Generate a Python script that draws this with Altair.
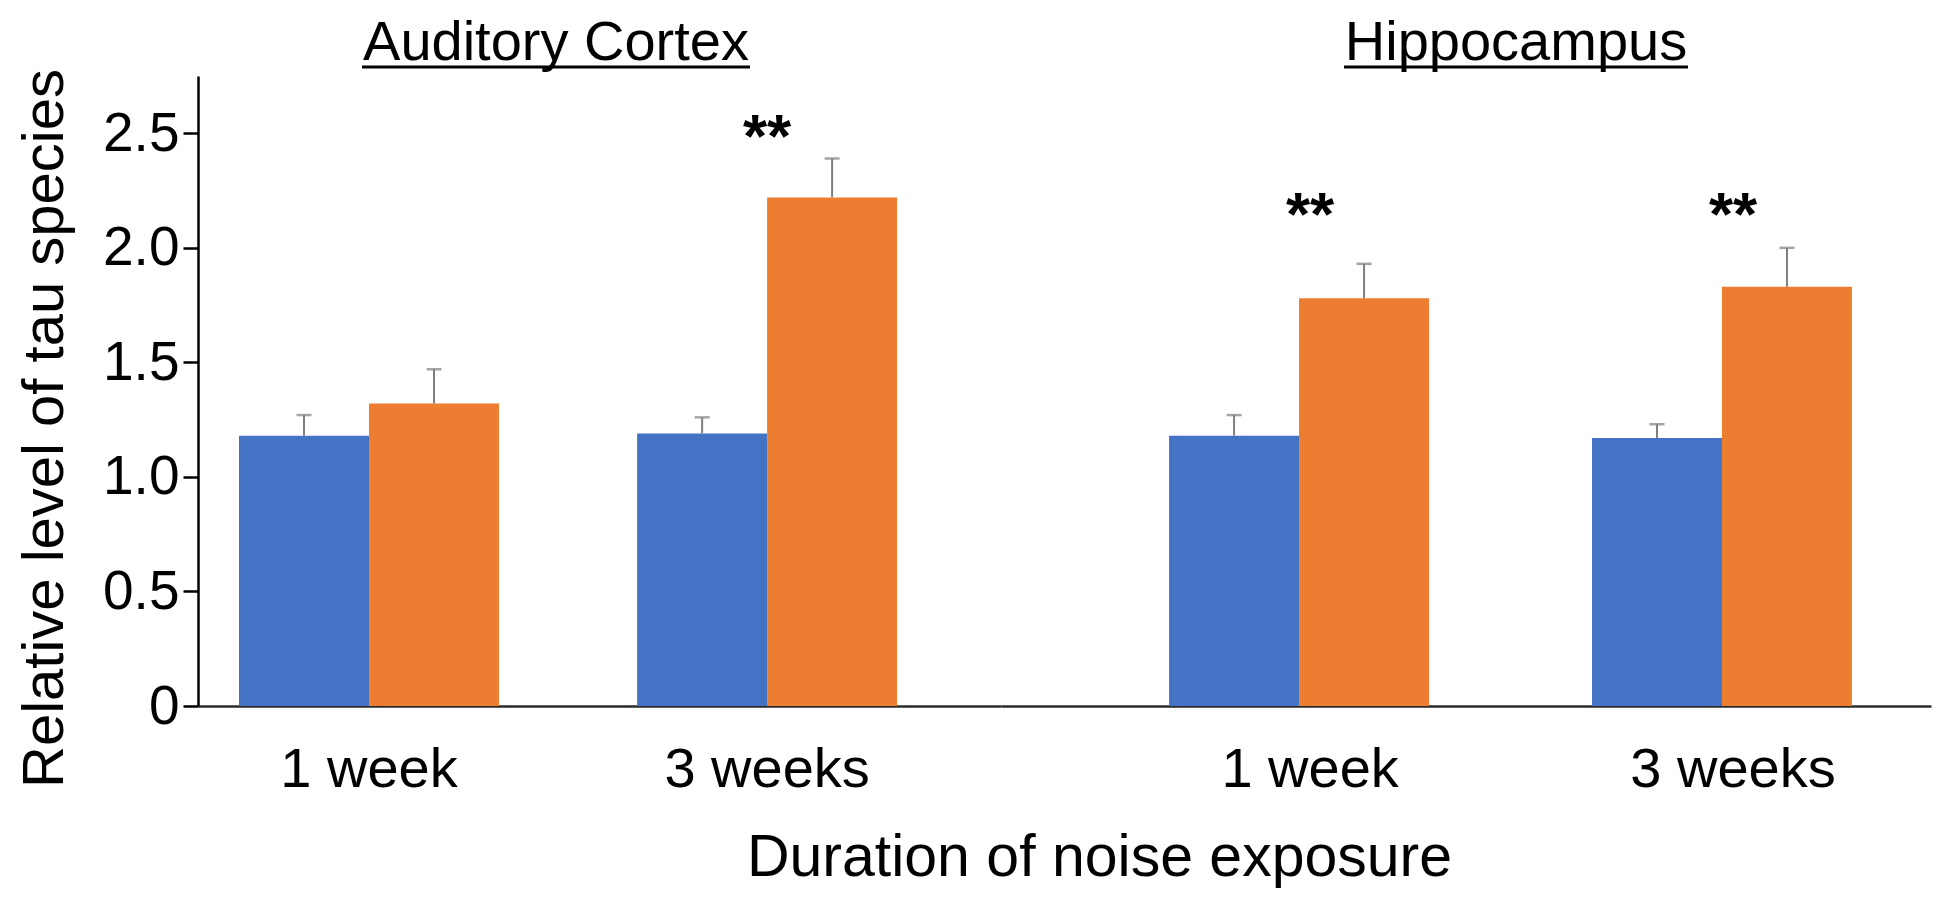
import altair as alt
import pandas as pd

# ---------------- data ----------------
regions = ["Auditory Cortex", "Hippocampus"]
durations = ["1 week", "3 weeks"]
groups = ["Control", "Noise exposed"]

ac_control = [1.18, 1.19]
ac_noise = [1.32, 2.22]
ac_control_err = [0.09, 0.07]
ac_noise_err = [0.15, 0.17]

hip_control = [1.18, 1.17]
hip_noise = [1.78, 1.83]
hip_control_err = [0.09, 0.06]
hip_noise_err = [0.15, 0.17]

# significance marks per region / duration (text, level on the y scale)
ac_sig = ["", "**"]
ac_sig_level = [None, 2.54]
hip_sig = ["**", "**"]
hip_sig_level = [2.20, 2.20]

y_ticks = [0, 0.5, 1.0, 1.5, 2.0, 2.5]
y_max = 2.75

# ---------------- style ----------------
FONT = "Liberation Sans"
BLUE = "#4472C4"
ORANGE = "#ED7D31"
ERR = "#7F7F7F"
PLOT_H = 630


def make_frames(ctrl, noise, ctrl_err, noise_err, sig, sig_level):
    rows = []
    for i, d in enumerate(durations):
        rows.append({"duration": d, "group": groups[0], "mean": ctrl[i],
                     "upper": ctrl[i] + ctrl_err[i]})
        rows.append({"duration": d, "group": groups[1], "mean": noise[i],
                     "upper": noise[i] + noise_err[i]})
    bars = pd.DataFrame(rows)
    stars = pd.DataFrame([{"duration": d, "label": s, "level": l}
                          for d, s, l in zip(durations, sig, sig_level) if s])
    return bars, stars


def panel(region, bars, stars, xscale, width, title_x, title_half, left):
    x_axis = alt.Axis(
        labelAngle=0, ticks=False, domain=True, domainColor="#2b2b2b", domainWidth=2.5,
        labelFont=FONT, labelFontSize=56, labelColor="black", labelPadding=36, labelLimit=0,
        title="Duration of noise exposure" if left else None,
        titleFont=FONT, titleFontSize=59, titleFontWeight="normal", titleColor="black",
        titleX=901, titleY=169, titleBaseline="alphabetic", titleAlign="center", titleLimit=0,
    )
    if left:
        y_axis = alt.Axis(
            values=y_ticks, grid=False,
            labelExpr="datum.value == 0 ? '0' : format(datum.value, '.1f')",
            tickSize=15, tickWidth=2.5, tickColor="black",
            domainColor="black", domainWidth=2.5,
            labelFont=FONT, labelFontSize=55, labelColor="black", labelPadding=4,
            title="Relative level of tau species", titleLimit=0,
            titleFont=FONT, titleFontSize=58, titleFontWeight="normal", titleColor="black",
            titleX=-153, titleY=352, titleAngle=270, titleBaseline="middle", titleAlign="center",
        )
    else:
        y_axis = None

    x_enc = alt.X("duration:N", scale=xscale, axis=x_axis, sort=durations)
    y_scale = alt.Scale(domain=[0, y_max], nice=False, zero=True)
    xoff = alt.XOffset("group:N", scale=alt.Scale(domain=groups))

    base = alt.Chart(bars)
    bar = base.mark_bar().encode(
        x=x_enc,
        xOffset=xoff,
        y=alt.Y("mean:Q", scale=y_scale, axis=y_axis),
        color=alt.Color("group:N", scale=alt.Scale(domain=groups, range=[BLUE, ORANGE]),
                        legend=None),
    )
    err = base.mark_rule(color=ERR, strokeWidth=2).encode(
        x=x_enc, xOffset=xoff,
        y=alt.Y("mean:Q", scale=y_scale), y2="upper:Q",
    )
    cap = base.mark_tick(color=ERR, thickness=2.5, size=15).encode(
        x=x_enc, xOffset=xoff,
        y=alt.Y("upper:Q", scale=y_scale),
    )
    star = alt.Chart(stars).mark_text(
        font=FONT, fontSize=62, fontWeight="bold", color="black", baseline="middle", dy=14
    ).encode(
        x=x_enc,
        y=alt.Y("level:Q", scale=y_scale),
        text="label:N",
    )
    tdata = alt.Data(values=[{"t": region}])
    title = alt.Chart(tdata).mark_text(
        font=FONT, fontSize=56, color="black", baseline="alphabetic", align="center"
    ).encode(x=alt.value(title_x), y=alt.value(-16), text="t:N")
    underline = alt.Chart(tdata).mark_rule(color="black", strokeWidth=3).encode(
        x=alt.value(title_x - title_half), x2=alt.value(title_x + title_half),
        y=alt.value(-9),
    )
    return alt.layer(bar, err, cap, star, title, underline).properties(
        width=width, height=PLOT_H
    )


ac_bars, ac_stars = make_frames(ac_control, ac_noise, ac_control_err, ac_noise_err,
                                ac_sig, ac_sig_level)
hip_bars, hip_stars = make_frames(hip_control, hip_noise, hip_control_err, hip_noise_err,
                                  hip_sig, hip_sig_level)

ac_scale = alt.Scale(domain=durations, paddingInner=0.347, paddingOuter=0.182,
                     align=0.283, round=False)
hip_scale = alt.Scale(domain=durations, paddingInner=0.333, paddingOuter=0.266,
                      align=0.747, round=False)

left = panel(regions[0], ac_bars, ac_stars, ac_scale, 803, 358, 194, True)
right = panel(regions[1], hip_bars, hip_stars, hip_scale, 930, 515, 172, False)

chart = alt.hconcat(left, right, spacing=0, bounds="flush").resolve_scale(
    x="independent", y="independent"
).properties(
    padding={"left": 7, "top": 7, "right": 5, "bottom": 5}
).configure_view(stroke=None)

chart.save("out.html", embed_options={"renderer": "svg", "actions": False})
